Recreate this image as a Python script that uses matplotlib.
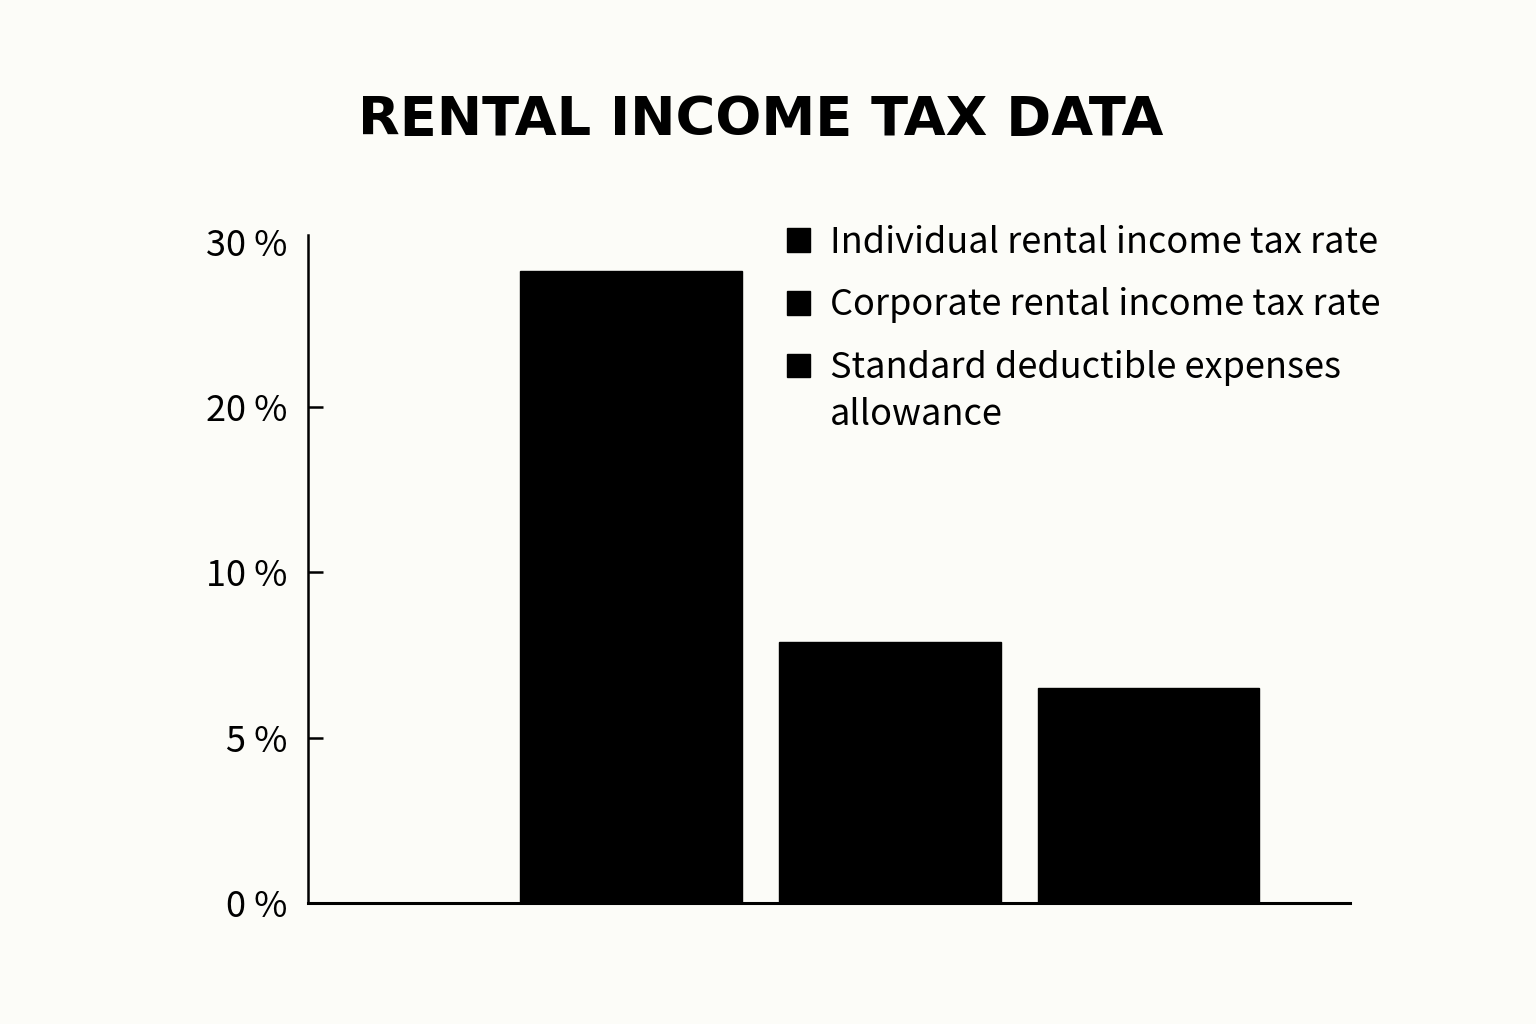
import numpy as np
import matplotlib
matplotlib.use("Agg")
import matplotlib.pyplot as plt
from matplotlib.patches import Patch
from matplotlib.transforms import IdentityTransform

# ---- data ----
categories = ["Individual rental income tax rate",
              "Corporate rental income tax rate",
              "Standard deductible expenses"]
category_wrap = "allowance"  # second line of the third legend label
values = [28.2, 7.9, 6.5]
tick_values = [0, 5, 10, 20, 30]
tick_labels = ["0 %", "5 %", "10 %", "20 %", "30 %"]
title = "RENTAL INCOME TAX DATA"

BG = "#FCFCF8"
FONT = ["Noto Sans CJK JP", "DejaVu Sans"]
plt.rcParams["font.family"] = FONT

fig = plt.figure(figsize=(15.36, 10.24), dpi=100, facecolor=BG)
ax = fig.add_axes([308/1536, 1-903/1024, (1350-308)/1536, (903-235)/1024])
ax.set_facecolor(BG)

# piecewise scale: evenly spaced ticks at 0,5,10,20,30
idx = np.arange(len(tick_values), dtype=float)
tv = np.array(tick_values, dtype=float)
def fwd(v):
    v = np.asarray(v, dtype=float)
    return np.interp(v, tv, idx) + np.where(v > tv[-1], (v - tv[-1]) / 10.0, 0)
def inv(i):
    i = np.asarray(i, dtype=float)
    return np.interp(i, idx, tv) + np.where(i > idx[-1], (i - idx[-1]) * 10.0, 0)
ax.set_yscale("function", functions=(fwd, inv))

x = np.arange(len(values))
bars = ax.bar(x, values, width=0.857, color="black", edgecolor="black")

ax.set_xlim(-1.25, 2.78)
ax.set_ylim(0, 30.4)
ax.set_yticks(tick_values)
ax.set_yticklabels(tick_labels, fontsize=26)
ax.set_xticks([])
ax.tick_params(axis="y", direction="in", length=11, width=1.8, pad=15, colors="black")
ax.yaxis.get_major_ticks()[-1].tick1line.set_visible(False)
ax.spines["top"].set_visible(False)
ax.spines["right"].set_visible(False)
ax.spines["left"].set_linewidth(1.8)
ax.spines["bottom"].set_linewidth(2.2)

handles = [Patch(facecolor="black", edgecolor="black") for _ in categories]
leg = ax.legend(handles, categories, loc="upper left", bbox_to_anchor=(0.446, 1.037),
                frameon=False, fontsize=26, handlelength=0.64, handleheight=0.64,
                handletextpad=0.55, labelspacing=0.74, borderaxespad=0)

fig.text(0.495, 0.8825, title, ha="center", va="center", fontsize=39,
         fontweight="bold", family=["DejaVu Sans"])

# second line of the wrapped third legend label
fig.canvas.draw()
t3 = leg.get_texts()[2]
bx, by = t3.get_transform().transform(t3.get_position())
fig.text(bx, by - 47, category_wrap, transform=IdentityTransform(),
         ha="left", va="baseline", fontsize=26)

fig.savefig("out.png", dpi=100, facecolor=BG)
